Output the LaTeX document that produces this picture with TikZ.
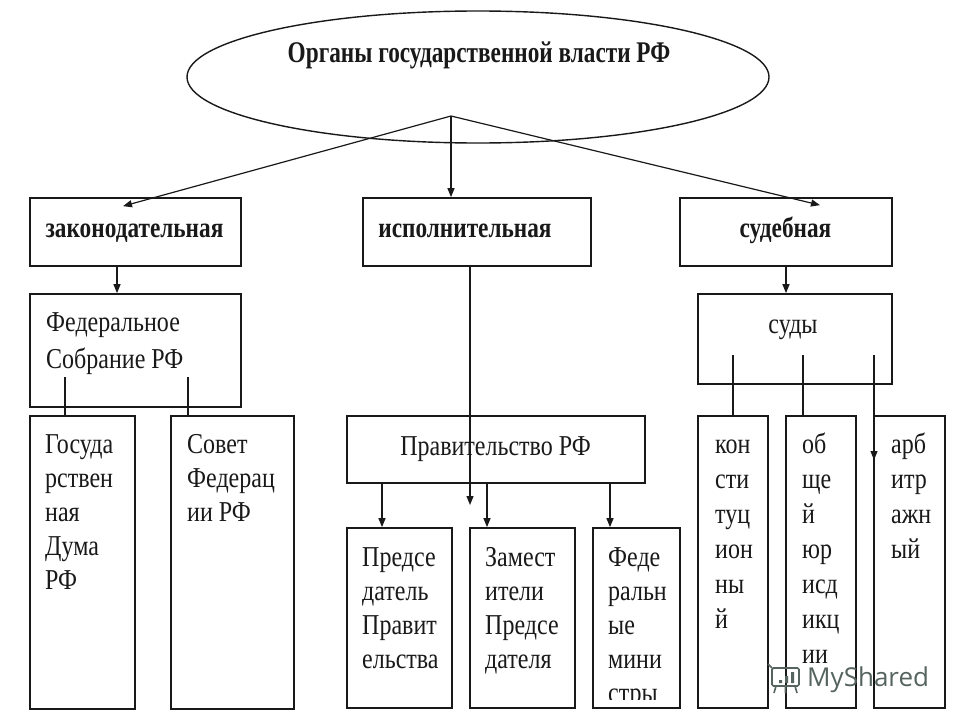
\documentclass[tikz,border=0pt]{standalone}
\usepackage{fontspec}
\setmainfont{Liberation Serif}
\newfontfamily\wmfont{Open Sans}
\usetikzlibrary{shapes.geometric,arrows.meta}
\newcommand{\vs}[1]{\scalebox{1}[1.2]{#1}}
\newcommand{\vsb}[1]{\scalebox{0.97}[1.2]{#1}}
\definecolor{ink}{RGB}{25,25,25}
\definecolor{wmcol}{RGB}{85,100,95}
\begin{document}
\begin{tikzpicture}[x=1pt,y=-1pt,
  box/.style={draw=ink, line width=1.7pt, inner sep=0pt},
  conn/.style={draw=ink, line width=1.2pt},
  arr/.style={draw=ink, line width=1.2pt, -{Triangle[length=9pt,width=7pt]}},
  txt/.style={font=\fontsize{24}{35}\selectfont, inner sep=0pt, anchor=base west, text=ink},
  ctxt/.style={font=\fontsize{24}{35}\selectfont, inner sep=0pt, anchor=base, text=ink},
  btxt/.style={font=\fontsize{24}{35}\selectfont\bfseries, inner sep=0pt, anchor=base, text=ink}]
\useasboundingbox[fill=white] (0,0) rectangle (960,720);

% top ellipse
\node[draw=ink, line width=1.4pt, ellipse, minimum width=582pt, minimum height=132pt, inner sep=0pt] (org) at (478,77) {};
\node[font=\fontsize{25}{30}\selectfont\bfseries, inner sep=0pt, anchor=base, text=ink] (orgt) at (479,62) {\scalebox{0.93}[1.2]{Органы государственной власти РФ}};
\coordinate (o) at (451,116);

% level 1
\node[box, minimum width=211pt, minimum height=68pt] (zak) at (135.5,232) {};
\node[btxt] (zakt) at (134.5,237) {\vsb{законодательная}};
\node[box, minimum width=228pt, minimum height=68pt] (isp) at (477,232) {};
\node[btxt] (ispt) at (465,237) {\vsb{исполнительная}};
\node[box, minimum width=212pt, minimum height=68pt] (sud) at (786,232) {};
\node[btxt] (sudt) at (785.5,237) {\vsb{судебная}};

\draw[arr] (o) -- ([xshift=-12.5pt,yshift=-9pt]zak.north);
\draw[arr] (o) -- ([xshift=-26pt]isp.north);
\draw[arr] (o) -- ([xshift=34pt,yshift=-8pt]sud.north);

% legislative branch
\node[box, minimum width=211pt, minimum height=113pt] (fed) at (135.5,350.5) {};
\node[txt] (fedt1) at (46,331) {\vs{Федеральное}};
\node[txt] (fedt2) at (46,368) {\vs{Собрание РФ}};
\draw[arr] ([xshift=-18.5pt]zak.south) -- ([xshift=-18.5pt]fed.north);

\node[box, minimum width=105pt, minimum height=293pt] (gos) at (82.5,562.5) {};
\node[box, minimum width=123pt, minimum height=293pt] (sov) at (232.5,562.5) {};
\foreach \t [count=\i from 0] in {Госуда,рствен,ная,Дума,РФ}
  \node[txt] (gos-\i) at (45,{453+34*\i}) {\vs{\t}};
\foreach \t [count=\i from 0] in {Совет,Федерац,ии РФ}
  \node[txt] (sov-\i) at (187,{453+34*\i}) {\vs{\t}};
\coordinate (f1) at (65,377);
\coordinate (f2) at (188,377);
\draw[conn] (f1) -- (f1 |- gos.north);
\draw[conn] (f2) -- (f2 |- sov.north);

% executive branch
\node[box, minimum width=298pt, minimum height=67pt] (prav) at (496,449.5) {};
\node[ctxt] (pravt) at (495.5,455) {\vs{Правительство РФ}};
\coordinate (ie) at (470,505);
\draw[arr] ([xshift=-7pt]isp.south) -- (ie);

\node[box, minimum width=105pt, minimum height=180pt] (pred) at (399.5,618) {};
\node[box, minimum width=105pt, minimum height=180pt] (zam) at (522.5,618) {};
\node[box, minimum width=87pt, minimum height=180pt] (min) at (636.5,618) {};
\foreach \t [count=\i from 0] in {Предсе,датель,Правит,ельства}
  \node[txt] (pred-\i) at (362,{566+34*\i}) {\vs{\t}};
\foreach \t [count=\i from 0] in {Замест,ители,Предсе,дателя}
  \node[txt] (zam-\i) at (485,{566+34*\i}) {\vs{\t}};
\begin{scope}
  \clip (min.north west) rectangle ([yshift=9pt]min.south east);
  \foreach \t [count=\i from 0] in {Феде,ральн,ые,мини,стры}
    \node[txt] (min-\i) at (608,{566+34*\i}) {\vs{\t}};
\end{scope}
\draw[arr] ([xshift=-114pt]prav.south) -- ([xshift=-17.5pt]pred.north);
\draw[arr] ([xshift=-9pt]prav.south) -- ([xshift=-35.5pt]zam.north);
\draw[arr] ([xshift=114pt]prav.south) -- ([xshift=-26.5pt]min.north);

% judicial branch
\node[box, minimum width=194pt, minimum height=90pt] (sudy) at (795,339) {};
\node[ctxt] (sudyt) at (793,333) {\vs{суды}};
\draw[arr] (sud.south) -- (sud.south |- sudy.north);

\node[box, minimum width=70pt, minimum height=292pt] (kon) at (733,562) {};
\node[box, minimum width=70pt, minimum height=292pt] (ob) at (821,562) {};
\node[box, minimum width=71pt, minimum height=292pt] (arb) at (909.5,562) {};
\foreach \t [count=\i from 0] in {кон,сти,туц,ион,ны,й}
  \node[txt] (kon-\i) at (715,{453+35*\i}) {\vs{\t}};
\foreach \t [count=\i from 0] in {об,ще,й,юр,исд,икц,ии}
  \node[txt] (ob-\i) at (802,{453+35*\i}) {\vs{\t}};
\foreach \t [count=\i from 0] in {арб,итр,ажн,ый}
  \node[txt] (arb-\i) at (891,{453+35*\i}) {\vs{\t}};
\coordinate (s1) at (733,355);
\coordinate (s2) at (803,355);
\coordinate (s3) at (874,355);
\coordinate (s3e) at (874,460);
\draw[conn] (s1) -- (s1 |- kon.north);
\draw[conn] (s2) -- (s2 |- ob.north);
\draw[arr] (s3) -- (s3e);

% watermark
\begin{scope}[wmcol, line width=1.6pt]
  \draw[rounded corners=1.5pt] (772,668) rectangle (799,686);
  \draw (768,664) -- (772,668);
  \draw (776,686) -- (774,693) (785.5,686) -- (785.5,693) (795,686) -- (797,693);
  \fill (779,680) rectangle (782,683) (785,676) rectangle (788,683) (791,672) rectangle (794,683);
\end{scope}
\node[font=\wmfont\fontsize{26}{26}\selectfont, text=wmcol, inner sep=0pt, anchor=base west] (wm) at (807,686) {MyShared};
\end{tikzpicture}
\end{document}
